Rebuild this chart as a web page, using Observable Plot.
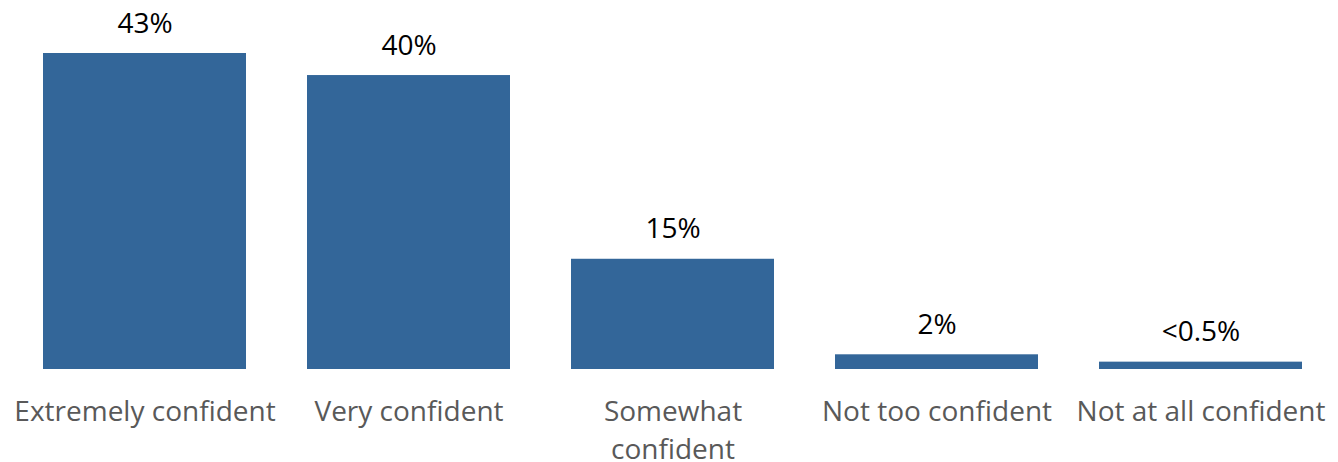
<!DOCTYPE html>
<html>
<head>
<meta charset="utf-8">
<script src="https://cdn.jsdelivr.net/npm/d3@7"></script>
<script src="https://cdn.jsdelivr.net/npm/@observablehq/plot@0.6"></script>
<style>
  html, body { margin: 0; padding: 0; background: #fff; }
  #chart svg { display: block; }
</style>
</head>
<body>
<div id="chart"></div>
<script>
const categories = ["Extremely confident", "Very confident", "Somewhat confident", "Not too confident", "Not at all confident"];
const tickLabels = ["Extremely confident", "Very confident", "Somewhat\nconfident", "Not too confident", "Not at all confident"];
const values = [43, 40, 15, 2, 1];
const valueLabels = ["43%", "40%", "15%", "2%", "<0.5%"];

const data = categories.map((c, i) => ({category: c, value: values[i], label: valueLabels[i]}));
const tickMap = new Map(categories.map((c, i) => [c, tickLabels[i]]));

const chart = Plot.plot({
  width: 1338,
  height: 462,
  marginTop: 53,
  marginBottom: 93,
  marginLeft: 12,
  marginRight: 5,
  style: {fontFamily: "'Open Sans', sans-serif", background: "#fff"},
  x: {domain: categories, paddingInner: 0.2306, paddingOuter: 0.115, label: null},
  y: {domain: [0, 43], axis: null},
  marks: [
    Plot.barY(data, {x: "category", y: "value", fill: "#336699"}),
    Plot.text(data, {x: "category", y: "value", text: "label", dy: -21, lineAnchor: "bottom", fontSize: 28, fill: "#000"}),
    Plot.axisX({tickSize: 0, tickPadding: 24, fontSize: 28, fill: "#595959", lineHeight: 1.36, tickFormat: d => tickMap.get(d)})
  ]
});
document.getElementById("chart").appendChild(chart);
</script>
</body>
</html>
